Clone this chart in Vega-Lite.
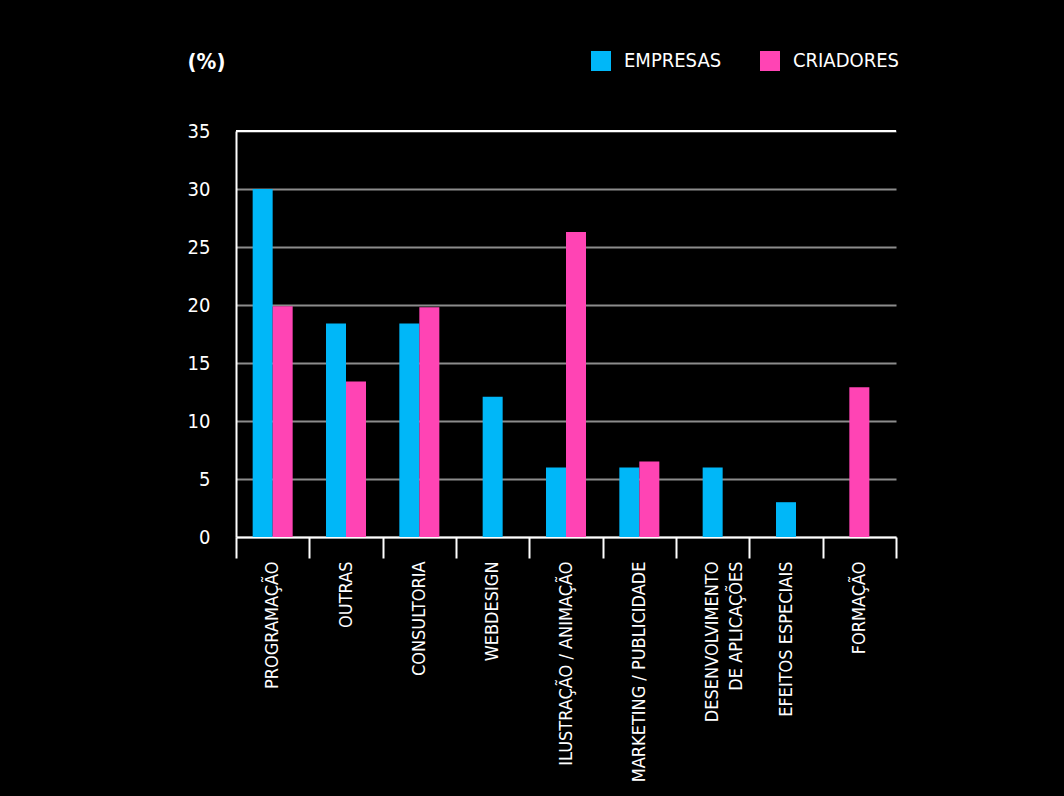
{
  "$schema": "https://vega.github.io/schema/vega-lite/v6.json",
  "width": 660,
  "height": 406,
  "autosize": {"type": "none"},
  "padding": {"left": 236, "top": 131, "right": 168, "bottom": 259},
  "background": "#000000",
  "config": {
    "view": {"stroke": null},
    "font": "Liberation Sans Narrow, DejaVu Sans Condensed, Roboto, sans-serif"
  },
  "data": {
    "values": [
      {"category": "PROGRAMAÇÃO", "series": "EMPRESAS", "value": 30},
      {"category": "PROGRAMAÇÃO", "series": "CRIADORES", "value": 19.9},
      {"category": "OUTRAS", "series": "EMPRESAS", "value": 18.4},
      {"category": "OUTRAS", "series": "CRIADORES", "value": 13.4},
      {"category": "CONSULTORIA", "series": "EMPRESAS", "value": 18.4},
      {"category": "CONSULTORIA", "series": "CRIADORES", "value": 19.8},
      {"category": "WEBDESIGN", "series": "EMPRESAS", "value": 12.1},
      {"category": "ILUSTRAÇÃO / ANIMAÇÃO", "series": "EMPRESAS", "value": 6},
      {"category": "ILUSTRAÇÃO / ANIMAÇÃO", "series": "CRIADORES", "value": 26.3},
      {"category": "MARKETING / PUBLICIDADE", "series": "EMPRESAS", "value": 6},
      {"category": "MARKETING / PUBLICIDADE", "series": "CRIADORES", "value": 6.5},
      {"category": "DESENVOLVIMENTO DE APLICAÇÕES", "series": "EMPRESAS", "value": 6},
      {"category": "EFEITOS ESPECIAIS", "series": "EMPRESAS", "value": 3},
      {"category": "FORMAÇÃO", "series": "CRIADORES", "value": 12.9}
    ]
  },
  "transform": [
    {"joinaggregate": [{"op": "count", "as": "n"}], "groupby": ["category"]}
  ],
  "layer": [
    {
      "transform": [{"filter": "datum.n == 2"}],
      "mark": {"type": "bar"},
      "encoding": {
        "x": {
          "field": "category",
          "type": "nominal",
          "scale": {
            "domain": ["PROGRAMAÇÃO", "OUTRAS", "CONSULTORIA", "WEBDESIGN", "ILUSTRAÇÃO / ANIMAÇÃO", "MARKETING / PUBLICIDADE", "DESENVOLVIMENTO DE APLICAÇÕES", "EFEITOS ESPECIAIS", "FORMAÇÃO"],
            "paddingInner": 0,
            "paddingOuter": 0
          },
          "axis": {
            "title": null,
            "tickBand": "extent",
            "labelAngle": -90,
            "labelAlign": "right",
            "labelBaseline": "middle",
            "labelFontSize": 18,
            "labelColor": "#ffffff",
            "labelPadding": 3,
            "labelLineHeight": 24,
            "labelLimit": 400,
            "tickSize": 21,
            "tickColor": "#ffffff",
            "tickWidth": 2,
            "domainColor": "#ffffff",
            "domainWidth": 2,
            "labelExpr": "datum.value == 'DESENVOLVIMENTO DE APLICAÇÕES' ? ['DESENVOLVIMENTO', 'DE APLICAÇÕES'] : datum.label"
          }
        },
        "xOffset": {
          "field": "series",
          "type": "nominal",
          "scale": {"domain": ["EMPRESAS", "CRIADORES"], "paddingOuter": 0.833, "paddingInner": 0}
        },
        "y": {
          "field": "value",
          "type": "quantitative",
          "scale": {"domain": [0, 35]},
          "axis": {
            "title": "(%)",
            "grid": true,
            "titleAngle": 0,
            "titleAlign": "left",
            "titleBaseline": "middle",
            "titleX": -49,
            "titleY": -70,
            "titleFontSize": 22,
            "titleFontWeight": "bold",
            "titleColor": "#ffffff",
            "values": [0, 5, 10, 15, 20, 25, 30, 35],
            "tickSize": 0,
            "labelPadding": 26,
            "labelFontSize": 20,
            "labelColor": "#ffffff",
            "domainColor": "#ffffff",
            "domainWidth": 2,
            "gridColor": "#8c8c8c",
            "gridWidth": 2
          }
        },
        "color": {
          "field": "series",
          "type": "nominal",
          "scale": {"domain": ["EMPRESAS", "CRIADORES"], "range": ["#00b7f8", "#ff44b4"]},
          "legend": {
            "title": null,
            "orient": "none",
            "direction": "horizontal",
            "legendX": 355,
            "legendY": -80,
            "symbolType": "square",
            "symbolSize": 400,
            "symbolStrokeWidth": 0,
            "symbolOpacity": 1,
            "labelFontSize": 20,
            "labelFontWeight": 500,
            "labelColor": "#ffffff",
            "labelOffset": 13,
            "columnPadding": 38,
            "labelLimit": 300
          }
        }
      }
    },
    {
      "transform": [{"filter": "datum.n == 1"}],
      "mark": {"type": "bar", "width": {"band": 0.2727}},
      "encoding": {
        "x": {"field": "category", "type": "nominal"},
        "y": {"field": "value", "type": "quantitative"},
        "color": {"field": "series", "type": "nominal"}
      }
    },
    {
      "data": {"values": [{}]},
      "mark": {"type": "rule", "color": "#ffffff", "strokeWidth": 2},
      "encoding": {"y": {"datum": 35, "type": "quantitative"}}
    }
  ]
}
